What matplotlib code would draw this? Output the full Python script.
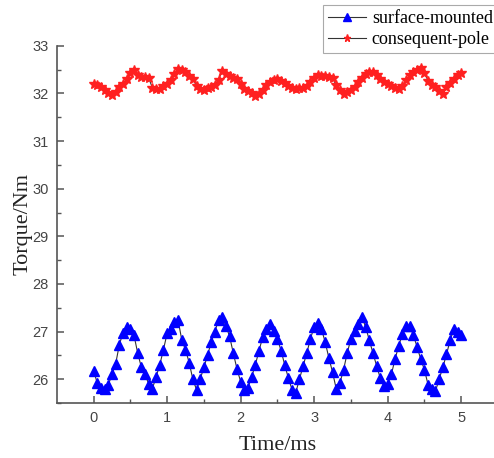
import numpy as np
import matplotlib.pyplot as plt

# time axis, ms
time_ms = np.arange(0, 101) * 0.05

surface_mounted = [
    26.18, 25.92, 25.82, 25.80, 25.88, 26.10, 26.32, 26.72, 26.98, 27.10,
    27.06, 26.92, 26.55, 26.25, 26.10, 25.90, 25.80, 26.05, 26.30, 26.62,
    26.96, 27.05, 27.20, 27.24, 26.82, 26.62, 26.35, 26.00, 25.78, 26.00,
    26.25, 26.50, 26.78, 27.00, 27.25, 27.30, 27.12, 26.90, 26.55, 26.22,
    25.95, 25.78, 25.82, 26.05, 26.30, 26.60, 26.88, 27.05, 27.15, 27.02,
    26.85, 26.60, 26.30, 26.02, 25.78, 25.72, 26.00, 26.28, 26.55, 26.85,
    27.10, 27.18, 27.05, 26.78, 26.45, 26.15, 25.80, 25.92, 26.20, 26.55,
    26.85, 27.02, 27.15, 27.30, 27.10, 26.82, 26.55, 26.28, 26.02, 25.85,
    25.90, 26.10, 26.42, 26.70, 26.95, 27.12, 27.12, 26.92, 26.68, 26.42,
    26.20, 25.88, 25.80, 25.75, 26.00, 26.25, 26.52, 26.82, 27.05, 27.00,
    26.92,
]

consequent_pole = [
    32.19, 32.17, 32.14, 32.08, 32.01, 31.97, 32.03, 32.13, 32.20, 32.30,
    32.42, 32.50, 32.39, 32.35, 32.34, 32.32, 32.12, 32.09, 32.10, 32.15,
    32.20, 32.28, 32.40, 32.52, 32.50, 32.44, 32.36, 32.30, 32.16, 32.10,
    32.08, 32.11, 32.13, 32.18, 32.29, 32.48, 32.41, 32.36, 32.32, 32.31,
    32.20, 32.10, 32.05, 32.01, 31.95, 31.98, 32.07, 32.17, 32.24, 32.29,
    32.30, 32.27, 32.21, 32.15, 32.12, 32.10, 32.11, 32.12, 32.16, 32.23,
    32.33, 32.38, 32.37, 32.36, 32.35, 32.33, 32.17, 32.07, 31.99, 32.03,
    32.08, 32.13, 32.24, 32.33, 32.40, 32.46, 32.44, 32.39, 32.31, 32.25,
    32.20, 32.16, 32.11, 32.09, 32.15, 32.28, 32.38, 32.44, 32.49, 32.53,
    32.42, 32.27, 32.18, 32.13, 32.05, 31.99, 32.14, 32.21, 32.31, 32.38,
    32.42,
]

fig = plt.figure(figsize=(4.94, 4.58), dpi=100)
ax = fig.add_axes([0.115, 0.12, 0.893, 0.78])

ax.plot(time_ms, surface_mounted, color='#333333', lw=0.8, marker='^',
        markersize=7.5, markerfacecolor='#0000ff', markeredgecolor='#0000ff',
        label='surface-mounted')
ax.plot(time_ms, consequent_pole, color='#333333', lw=0.8, marker='*',
        markersize=7, markerfacecolor='#ff2020', markeredgecolor='#ff2020',
        label='consequent-pole')

ax.set_xlim(-0.5, 5.5)
ax.set_ylim(25.5, 33)
ax.set_xticks(range(0, 6))
ax.set_xticks(np.arange(0.5, 5.0, 1.0), minor=True)
ax.set_yticks(range(26, 34))
ax.set_yticks(np.arange(25.5, 33, 1.0), minor=True)

#only left and bottom axis lines, ticks pointing inward
for side in ['top', 'right']:
    ax.spines[side].set_visible(False)
for side in ['left', 'bottom']:
    ax.spines[side].set_color('#555555')
    ax.spines[side].set_linewidth(1.2)
ax.tick_params(which='major', direction='in', length=5, width=1.1, color='#555555',
               labelsize=10.5, labelcolor='#444444', pad=6)
ax.tick_params(which='minor', direction='in', length=3, width=1.0, color='#555555')
for lab in ax.get_xticklabels() + ax.get_yticklabels():
    lab.set_family('Liberation Sans')

ax.set_xlabel('Time/ms', family='Liberation Serif', fontsize=16, color='#222222',
              labelpad=8)
ax.set_ylabel('Torque/Nm', family='Liberation Serif', fontsize=16, color='#222222',
              labelpad=0)

leg = ax.legend(loc='upper left', bbox_to_anchor=(323 / 494, 1 - 5 / 458),
                bbox_transform=fig.transFigure,
                prop={'family': 'Liberation Serif', 'size': 13},
                frameon=True, fancybox=False, framealpha=1, edgecolor='#aaaaaa',
                handlelength=2.1, borderpad=0.3, labelspacing=0.2,
                handletextpad=0.3, borderaxespad=0, markerscale=0.75)
leg.get_frame().set_linewidth(0.8)

fig.savefig('out.png', dpi=100)
